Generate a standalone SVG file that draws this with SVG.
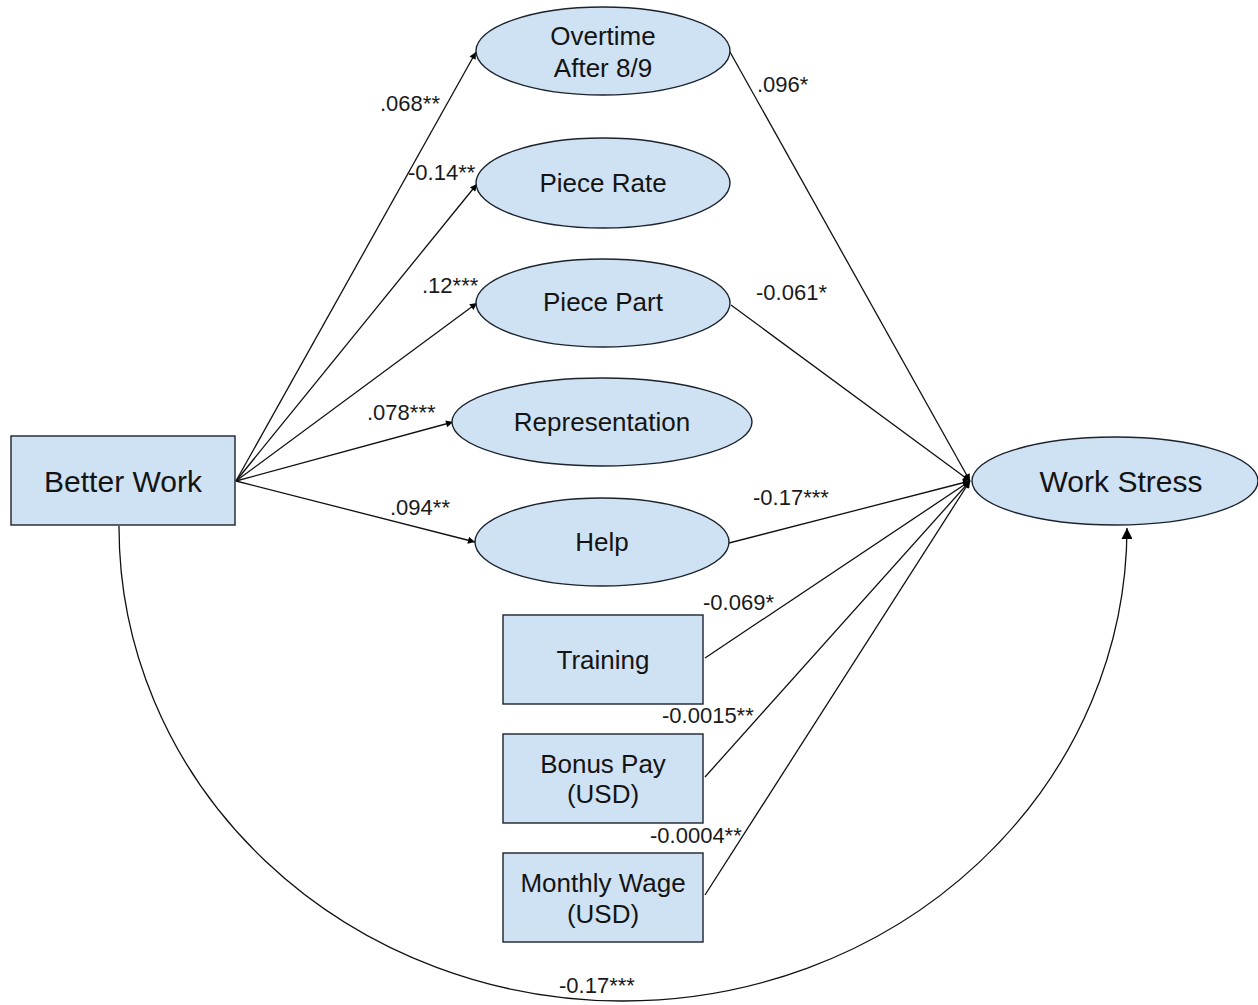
<svg xmlns="http://www.w3.org/2000/svg" width="1258" height="1005" viewBox="0 0 1258 1005">
<defs>
<marker id="arr" viewBox="0 0 10 10" refX="10" refY="5" markerWidth="9" markerHeight="7" markerUnits="userSpaceOnUse" orient="auto">
<path d="M0,0 L10,5 L0,10 z" fill="#000"/>
</marker>
<marker id="arrBig" viewBox="0 0 10 10" refX="10" refY="5" markerWidth="15" markerHeight="11" markerUnits="userSpaceOnUse" orient="auto">
<path d="M0,0 L10,5 L0,10 z" fill="#000"/>
</marker>
<style>
.node{fill:#cfe2f3;stroke:#1c232e;stroke-width:1.4}
.t{font-family:"Liberation Sans",Arial,sans-serif;fill:#141414;text-anchor:middle}
.t26{font-size:26px}
.t30{font-size:30px}
.lbl{font-family:"Liberation Sans",Arial,sans-serif;font-size:22px;fill:#1a1a1a}
.e{fill:none;stroke:#111;stroke-width:1.3}
</style>
</defs>
<rect width="1258" height="1005" fill="#fff"/>
<g id="connectors">
<line class="e" x1="236" y1="481" x2="476" y2="52" marker-end="url(#arr)"/>
<line class="e" x1="236" y1="481" x2="477" y2="184" marker-end="url(#arr)"/>
<line class="e" x1="236" y1="481" x2="477" y2="303" marker-end="url(#arr)"/>
<line class="e" x1="236" y1="481" x2="453" y2="422" marker-end="url(#arr)"/>
<line class="e" x1="236" y1="481" x2="475" y2="542" marker-end="url(#arr)"/>
<line class="e" x1="730" y1="52" x2="970" y2="481" marker-end="url(#arr)"/>
<line class="e" x1="731" y1="305" x2="970" y2="481" marker-end="url(#arr)"/>
<line class="e" x1="729" y1="543" x2="970" y2="481" marker-end="url(#arr)"/>
<line class="e" x1="705" y1="658" x2="970" y2="481" marker-end="url(#arr)"/>
<line class="e" x1="705" y1="777" x2="970" y2="481" marker-end="url(#arr)"/>
<line class="e" x1="705" y1="895" x2="970" y2="481" marker-end="url(#arr)"/>
<path class="e" d="M119,526 A504,474 0 0 0 1127,528" stroke-width="1.8" marker-end="url(#arrBig)"/>
<text class="lbl" x="380" y="111">.068**</text>
<text class="lbl" x="408" y="180">-0.14**</text>
<text class="lbl" x="422" y="293">.12***</text>
<text class="lbl" x="367" y="420">.078***</text>
<text class="lbl" x="390" y="515">.094**</text>
<text class="lbl" x="757" y="92">.096*</text>
<text class="lbl" x="756" y="300">-0.061*</text>
<text class="lbl" x="753" y="505">-0.17***</text>
<text class="lbl" x="703" y="610">-0.069*</text>
<text class="lbl" x="662" y="723">-0.0015**</text>
<text class="lbl" x="650" y="843">-0.0004**</text>
<text class="lbl" x="559" y="993">-0.17***</text>
</g>
<g id="better-work">
<rect class="node" x="11" y="436" width="224" height="89"/>
<text class="t t30" x="123" y="492">Better Work</text>
</g>
<g id="overtime">
<ellipse class="node" cx="603" cy="51" rx="127" ry="44"/>
<text class="t t26" x="603" y="45">Overtime</text>
<text class="t t26" x="603" y="77">After 8/9</text>
</g>
<g id="piece-rate">
<ellipse class="node" cx="603" cy="183" rx="127" ry="45"/>
<text class="t t26" x="603" y="192">Piece Rate</text>
</g>
<g id="piece-part">
<ellipse class="node" cx="603" cy="303" rx="127" ry="44"/>
<text class="t t26" x="603" y="311">Piece Part</text>
</g>
<g id="representation">
<ellipse class="node" cx="602" cy="422" rx="150" ry="44"/>
<text class="t t26" x="602" y="431">Representation</text>
</g>
<g id="help">
<ellipse class="node" cx="602" cy="542" rx="127" ry="44"/>
<text class="t t26" x="602" y="551">Help</text>
</g>
<g id="training">
<rect class="node" x="503" y="615" width="200" height="89"/>
<text class="t t26" x="603" y="669">Training</text>
</g>
<g id="bonus-pay">
<rect class="node" x="503" y="734" width="200" height="89"/>
<text class="t t26" x="603" y="773">Bonus Pay</text>
<text class="t t26" x="603" y="803">(USD)</text>
</g>
<g id="monthly-wage">
<rect class="node" x="503" y="853" width="200" height="89"/>
<text class="t t26" x="603" y="892">Monthly Wage</text>
<text class="t t26" x="603" y="923">(USD)</text>
</g>
<g id="work-stress">
<ellipse class="node" cx="1115" cy="481" rx="143" ry="44"/>
<text class="t t30" x="1121" y="492">Work Stress</text>
</g>
</svg>
